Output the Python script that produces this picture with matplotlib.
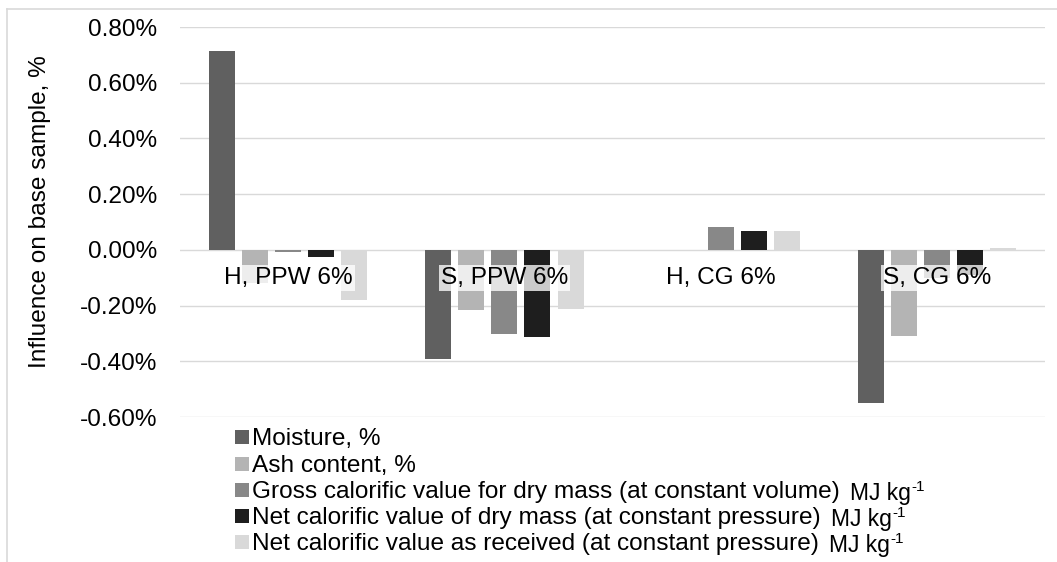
import matplotlib.pyplot as plt
from matplotlib.lines import Line2D
from matplotlib.patches import Rectangle
from matplotlib.ticker import FuncFormatter
import numpy as np

plt.rcParams['font.family'] = ['Liberation Sans', 'DejaVu Sans']

categories = ['H, PPW 6%', 'S, PPW 6%', 'H, CG 6%', 'S, CG 6%']
series = ['Moisture, %',
          'Ash content, %',
          'Gross calorific value for dry mass (at constant volume)',
          'Net calorific value of dry mass (at constant pressure)',
          'Net calorific value as received (at constant pressure)']
units = ['', '', 'MJ kg', 'MJ kg', 'MJ kg']
unit_exp = '-1'
moisture = [0.713, -0.39, 0.001, -0.55]
ash = [-0.12, -0.215, 0.0, -0.31]
gross_dry = [-0.008, -0.302, 0.081, -0.10]
net_dry = [-0.026, -0.312, 0.069, -0.09]
net_received = [-0.18, -0.214, 0.066, 0.005]
colors = ['#606060', '#b4b4b4', '#888888', '#1e1e1e', '#d9d9d9']

values = [moisture, ash, gross_dry, net_dry, net_received]

W, H = 1057, 562
fs = 17.6
fig = plt.figure(figsize=(W / 100, H / 100), dpi=100)
ax = fig.add_axes([180 / W, 1 - 417 / H, (1045 - 180) / W, (417 - 27) / H])

x = np.arange(len(categories))
step = 0.153
width = 0.12
for i, (vals, lab, c) in enumerate(zip(values, series, colors)):
    ax.bar(x + (i - 2) * step, vals, width, color=c, label=lab, zorder=2)

ax.set_ylim(-0.6, 0.8)
ax.set_xlim(-0.5, 3.5)
ax.set_yticks(np.arange(-0.6, 0.81, 0.2))
ax.yaxis.set_major_formatter(FuncFormatter(lambda v, p: '%.2f%%' % v))
ax.set_xticks([])
ax.grid(axis='y', color='#d9d9d9', linewidth=1.0, zorder=0)
for s in ax.spines.values():
    s.set_visible(False)
ax.tick_params(axis='y', length=0, labelsize=fs, pad=16.5)
ax.set_ylabel('Influence on base sample, %', fontsize=fs)
ax.yaxis.set_label_coords(-(180 - 51) / (1045 - 180), (417 - 212) / (417 - 27))

# category labels just under the zero line, on a see-through white box
for xi, cat in zip(x, categories):
    ax.text(xi, -0.10, cat, ha='center', va='center', fontsize=fs, zorder=3,
            bbox=dict(facecolor='white', alpha=0.77, edgecolor='none', pad=1.5))

# legend, drawn row by row like the Excel one
renderer = fig.canvas.get_renderer()
row_y = [437, 464, 490, 516, 542]
for lab, unit, c, yy in zip(series, units, colors, row_y):
    fig.add_artist(Rectangle((235 / W, 1 - (yy + 7) / H), 14 / W, 14 / H,
                             transform=fig.transFigure, facecolor=c,
                             edgecolor='none'))
    t = fig.text(252 / W, 1 - (yy + 8) / H, lab, fontsize=fs, ha='left',
                 va='baseline')
    if unit:
        ext = t.get_window_extent(renderer)
        u = fig.text((ext.x1 + 10) / W, 1 - (yy + 10) / H, unit, fontsize=16.5,
                     ha='left', va='baseline')
        uext = u.get_window_extent(renderer)
        fig.text((uext.x1 + 1) / W, 1 - (yy + 1) / H, unit_exp, fontsize=11,
                 ha='left', va='baseline')

# outer chart border
fig.add_artist(Line2D([7 / W, 7 / W], [0, 1 - 9 / H], color='#d9d9d9', lw=1.2))
fig.add_artist(Line2D([7 / W, 1], [1 - 9 / H, 1 - 9 / H], color='#d9d9d9', lw=1.2))

fig.savefig('out.png', dpi=100)
